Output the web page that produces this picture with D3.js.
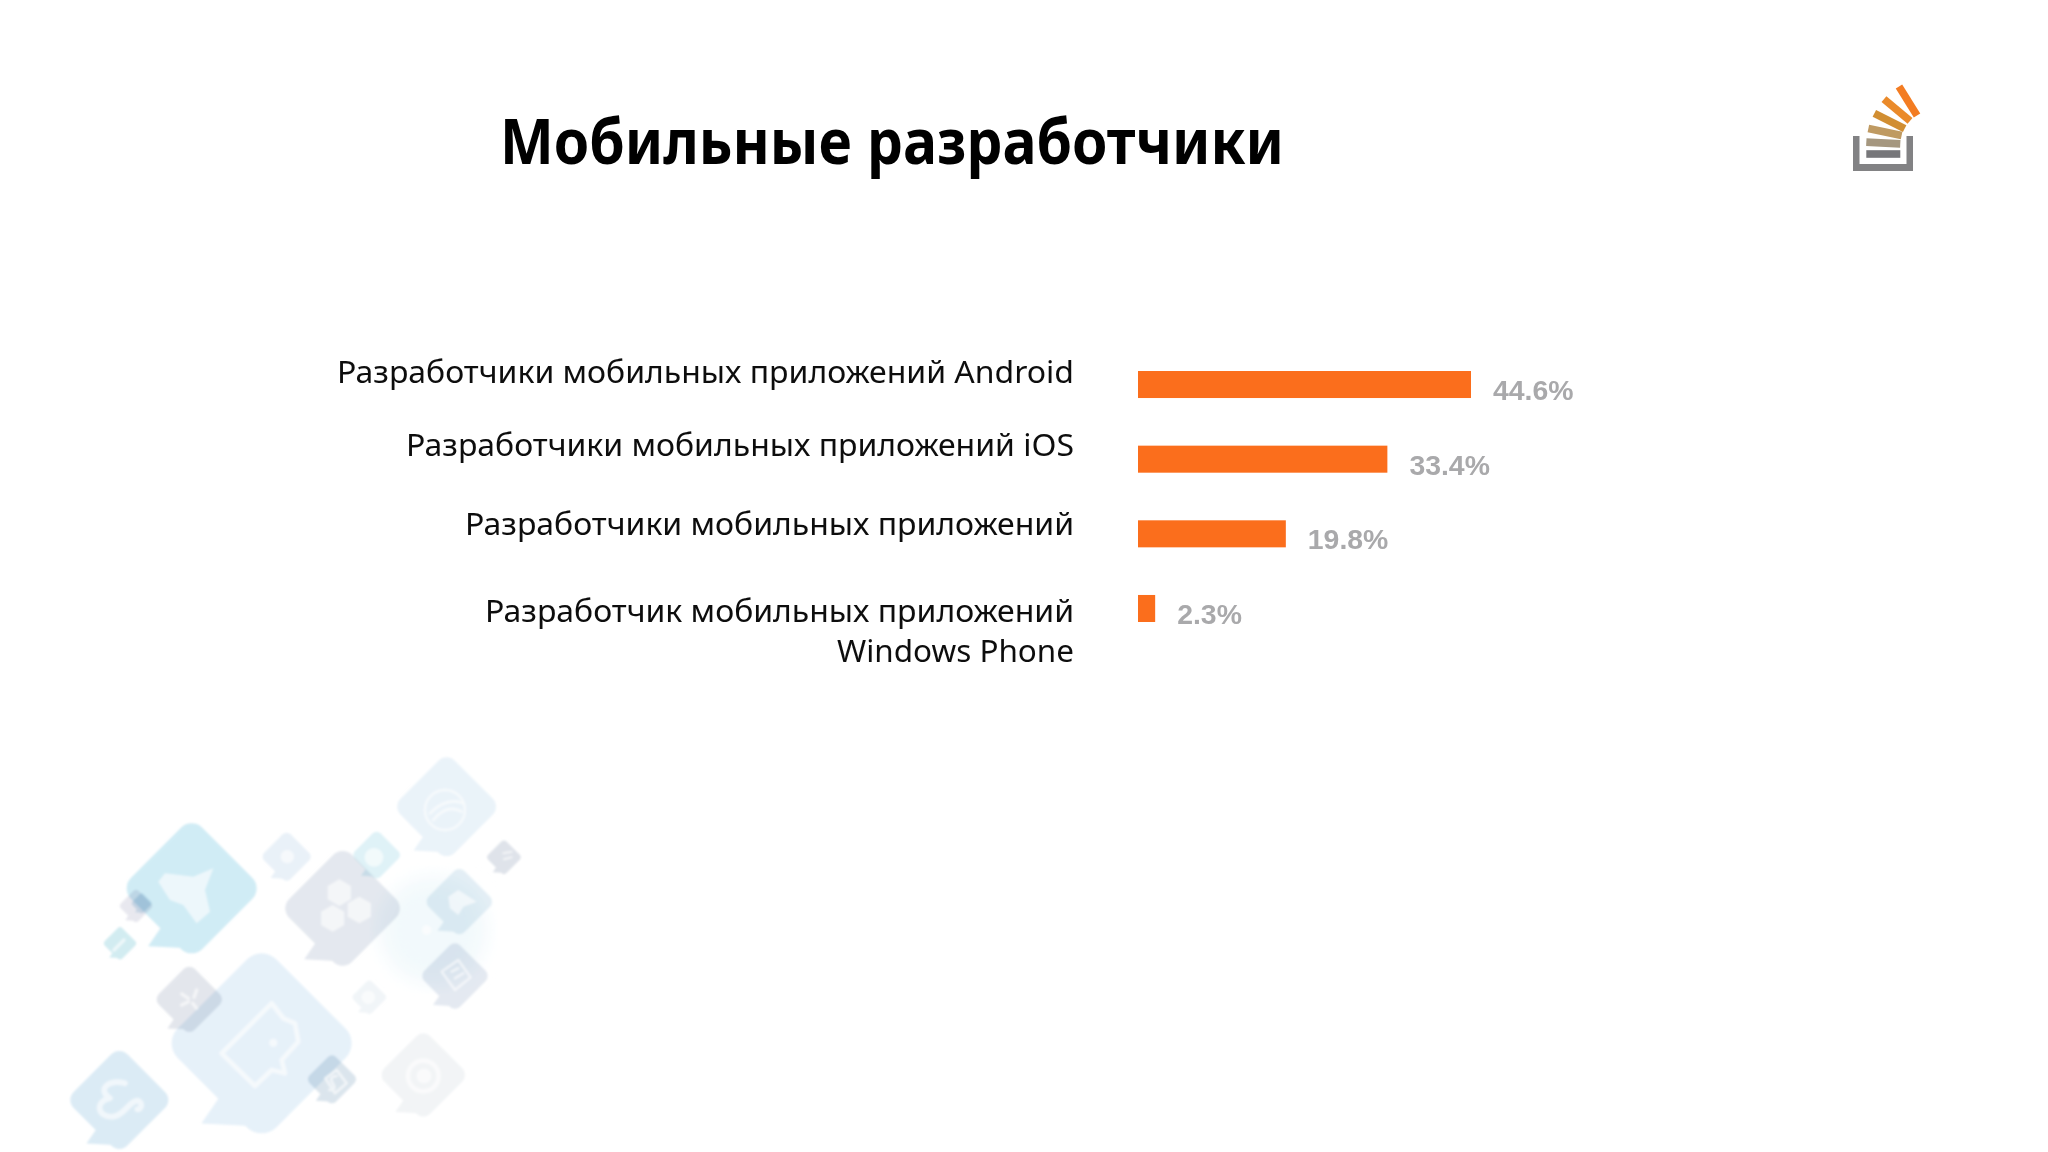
<!DOCTYPE html>
<html lang="ru">
<head>
<meta charset="utf-8">
<script src="https://cdn.jsdelivr.net/npm/d3@7"></script>
<style>
html,body{margin:0;padding:0;background:#fff;}
svg{display:block;}
.deco{isolation:isolate;}
.bubble{mix-blend-mode:multiply;}
</style>
</head>
<body>
<svg id="chart" width="2048" height="1152"></svg>
<script>
// ---- data ----
const titleText = "Мобильные разработчики";
const categories = ["android", "ios", "general", "windows"];
const categoryLines = [
  ["Разработчики мобильных приложений Android"],
  ["Разработчики мобильных приложений iOS"],
  ["Разработчики мобильных приложений"],
  ["Разработчик мобильных приложений", "Windows Phone"]
];
const values = [44.6, 33.4, 19.8, 2.3];
const valueLabels = ["44.6%", "33.4%", "19.8%", "2.3%"];

// ---- layout (separate from the data) ----
const W = 2048, H = 1152;
const barColor = "#fb6e1e", labelGrey = "#a9a9ab";
const labelRight = 1074;
const labelFont = "'Noto Sans','DejaVu Sans',Tahoma,sans-serif";
const labelBaselines = [[383], [456], [535], [622, 662]];
const labelWidths = [[737], [668], [609], [589, 237]];

const svg = d3.select("#chart");
const defs = svg.append("defs");
defs.append("filter").attr("id","soft").append("feGaussianBlur").attr("stdDeviation",0.7);
defs.append("filter").attr("id","softText").append("feGaussianBlur").attr("stdDeviation",0.35);
defs.append("filter").attr("id","softer").append("feGaussianBlur").attr("stdDeviation",2.4);
defs.append("filter").attr("id","cloud").append("feGaussianBlur").attr("stdDeviation",30);

svg.append("rect").attr("width",W).attr("height",H).attr("fill","#ffffff");

// ---- decoration: speech-bubble pattern, bottom-left ----
const bubbles = [
  {x:635,y:910,r:270,c:"#e6f1f9"},
  {x:425,y:445,r:195,c:"#d0ecf5"},
  {x:710,y:350,r:72,c:"#e9f1f8"},
  {x:980,y:345,r:70,c:"#dff2f7"},
  {x:878,y:505,r:172,c:"#e4e8ef"},
  {x:1190,y:200,r:148,c:"#eaf3f9"},
  {x:1362,y:352,r:50,c:"#dfe3ea"},
  {x:1228,y:485,r:98,c:"#e5eff5"},
  {x:1215,y:708,r:98,c:"#e4e9f1"},
  {x:958,y:772,r:50,c:"#f1f5f8"},
  {x:418,y:778,r:98,c:"#e3e6ec"},
  {x:846,y:1018,r:72,c:"#dbe5ed"},
  {x:1120,y:1005,r:125,c:"#f2f4f6"},
  {x:208,y:1080,r:147,c:"#dbebf5"},
  {x:258,y:498,r:48,c:"#e8e8ef"},
  {x:275,y:490,r:30,c:"#d8e8f2"},
  {x:210,y:610,r:48,c:"#d2ecf1"}
];
const deco = svg.append("g").attr("class","deco")
  .attr("transform","translate(50,740) scale(0.3333)")
  .attr("filter","url(#softer)");
deco.append("ellipse").attr("cx",1150).attr("cy",570).attr("rx",160).attr("ry",160)
  .attr("fill","#f2f9fc").attr("filter","url(#cloud)");
const bubble = deco.selectAll("g.bubble").data(bubbles).join("g")
  .attr("class","bubble").attr("transform",d=>`translate(${d.x},${d.y})`);
bubble.append("rect")
  .attr("transform","rotate(45)")
  .attr("x",d=>-d.r/1.29).attr("y",d=>-d.r/1.29)
  .attr("width",d=>2*d.r/1.29).attr("height",d=>2*d.r/1.29)
  .attr("rx",d=>0.3*d.r/1.29)
  .attr("fill",d=>d.c);
bubble.append("path").attr("fill",d=>d.c).attr("d",d=>{
  const p=d3.path(), r=d.r;
  p.moveTo(-0.67*r,0.89*r); p.lineTo(-0.12*r,0.92*r); p.lineTo(-0.47*r,0.6*r); p.closePath();
  return p.toString();
});

const iconW = "#ffffff";
const icons = deco.append("g").attr("fill",iconW).attr("stroke","none").attr("opacity",0.62);
// hexagons
const hexPath = d3.line().curve(d3.curveLinearClosed);
const hexPts = (cx,cy,r)=>d3.range(6).map(i=>[cx+r*Math.sin(i*Math.PI/3),cy+r*Math.cos(i*Math.PI/3)]);
[[868,458,40],[848,535,40],[928,510,40]].forEach(h=>icons.append("path").attr("d",hexPath(hexPts(...h))));
// dome
icons.append("path").attr("d",hexPath([[325,425],[345,400],[430,410],[490,385],[465,450],[480,515],[440,550],[400,495],[360,480]]));
// small dots
[[712,350,20],[972,352,28],[955,772,20],[1122,1008,22],[670,908,12],[1130,570,14]].forEach(c=>
  icons.append("circle").attr("cx",c[0]).attr("cy",c[1]).attr("r",c[2]));
// bell shape
icons.append("path").attr("d",hexPath([[1195,470],[1225,450],[1280,485],[1240,500],[1225,525],[1200,505]]));
// line icons
const strokes = deco.append("g").attr("fill","none").attr("stroke",iconW).attr("stroke-linecap","round")
  .attr("stroke-linejoin","round").attr("opacity",0.62);
strokes.append("circle").attr("cx",1120).attr("cy",1008).attr("r",46).attr("stroke-width",14);
strokes.append("circle").attr("cx",1185).attr("cy",210).attr("r",60).attr("stroke-width",7);
strokes.append("path").attr("stroke-width",8).attr("d","M1140 220 Q1190 170 1240 190 M1150 240 Q1190 190 1235 215");
// big square speech icon
strokes.append("path").attr("stroke-width",14)
  .attr("d","M665 790 L515 940 L615 1038 L665 990 L705 1000 L695 960 L745 905 L735 850 L700 835 Z");
// ampersand
strokes.append("path").attr("stroke-width",17)
  .attr("d","M225 1030 C175 1015 140 1050 180 1075 C130 1085 145 1135 190 1130 C225 1125 235 1085 262 1082 C280 1085 275 1110 262 1108");
// S in a box
strokes.append("path").attr("stroke-width",8)
  .attr("d","M826 1015 L860 990 L890 1030 L855 1060 Z M860 1008 Q835 1010 848 1030 Q862 1050 838 1050");
// small glyphs
strokes.append("path").attr("stroke-width",10)
  .attr("d","M395 762 L415 775 M440 750 L432 772 M395 795 L415 785 M440 805 L428 790");
strokes.append("path").attr("stroke-width",7)
  .attr("d","M1175 695 L1225 660 L1262 712 L1215 750 Z M1205 695 L1225 685 M1215 715 L1240 700");
strokes.append("path").attr("stroke-width",10).attr("d","M192 630 L222 600");
strokes.append("path").attr("stroke-width",6).attr("d","M1360 340 L1385 335 M1362 358 L1385 352");

// ---- title ----
svg.append("text").text(titleText)
  .attr("x",500).attr("y",164)
  .attr("textLength",784).attr("lengthAdjust","spacingAndGlyphs")
  .attr("font-family",labelFont).attr("font-weight",700)
  .attr("font-size",63).attr("fill","#000")
  .attr("filter","url(#softText)");

// ---- logo ----
const logo = svg.append("g").attr("filter","url(#soft)");
logo.append("path").attr("fill","#828284")
  .attr("d","M1853 136h6.5v28h47v-28h6.5v35h-60z");
const strips = [
  {cx:1883.3,cy:154,a:0,c:"#77777a"},
  {cx:1883.3,cy:143,a:3,c:"#a5977f"},
  {cx:1885,cy:132,a:12,c:"#bf9a62"},
  {cx:1889.5,cy:121,a:27,c:"#d18e33"},
  {cx:1897,cy:110,a:40,c:"#ea8a2b"},
  {cx:1908,cy:101,a:58,c:"#f37b20"}
];
logo.selectAll("rect.strip").data(strips).join("rect").attr("class","strip")
  .attr("x",-17).attr("y",-3.8).attr("width",34).attr("height",7.6)
  .attr("fill",d=>d.c)
  .attr("transform",d=>`translate(${d.cx},${d.cy}) rotate(${d.a})`);

// ---- bars ----
const x = d3.scaleLinear().domain([0,44.6]).range([1138,1471]);
const y = d3.scaleBand().domain(categories).range([371,622]).paddingInner(0.638).paddingOuter(0);
const barsG = svg.append("g").attr("filter","url(#soft)");
barsG.selectAll("rect").data(values).join("rect")
  .attr("x",x(0))
  .attr("y",(d,i)=>y(categories[i]))
  .attr("width",d=>x(d)-x(0))
  .attr("height",y.bandwidth())
  .attr("fill",barColor);

// ---- value labels ----
barsG.selectAll("text").data(values).join("text")
  .attr("x",d=>x(d)+22)
  .attr("y",(d,i)=>y(categories[i])+29)
  .attr("font-family","'Liberation Sans',Arial,sans-serif")
  .attr("font-weight",700).attr("font-size",28.4)
  .attr("fill",labelGrey)
  .text((d,i)=>valueLabels[i]);

// ---- category labels ----
categoryLines.forEach((lines,i)=>{
  lines.forEach((line,j)=>{
    svg.append("text").text(line)
      .attr("x",labelRight).attr("y",labelBaselines[i][j])
      .attr("text-anchor","end")
      .attr("textLength",labelWidths[i][j]).attr("lengthAdjust","spacingAndGlyphs")
      .attr("font-family",labelFont).attr("font-size",31).attr("fill","#111")
      .attr("filter","url(#softText)");
  });
});
</script>
</body>
</html>
